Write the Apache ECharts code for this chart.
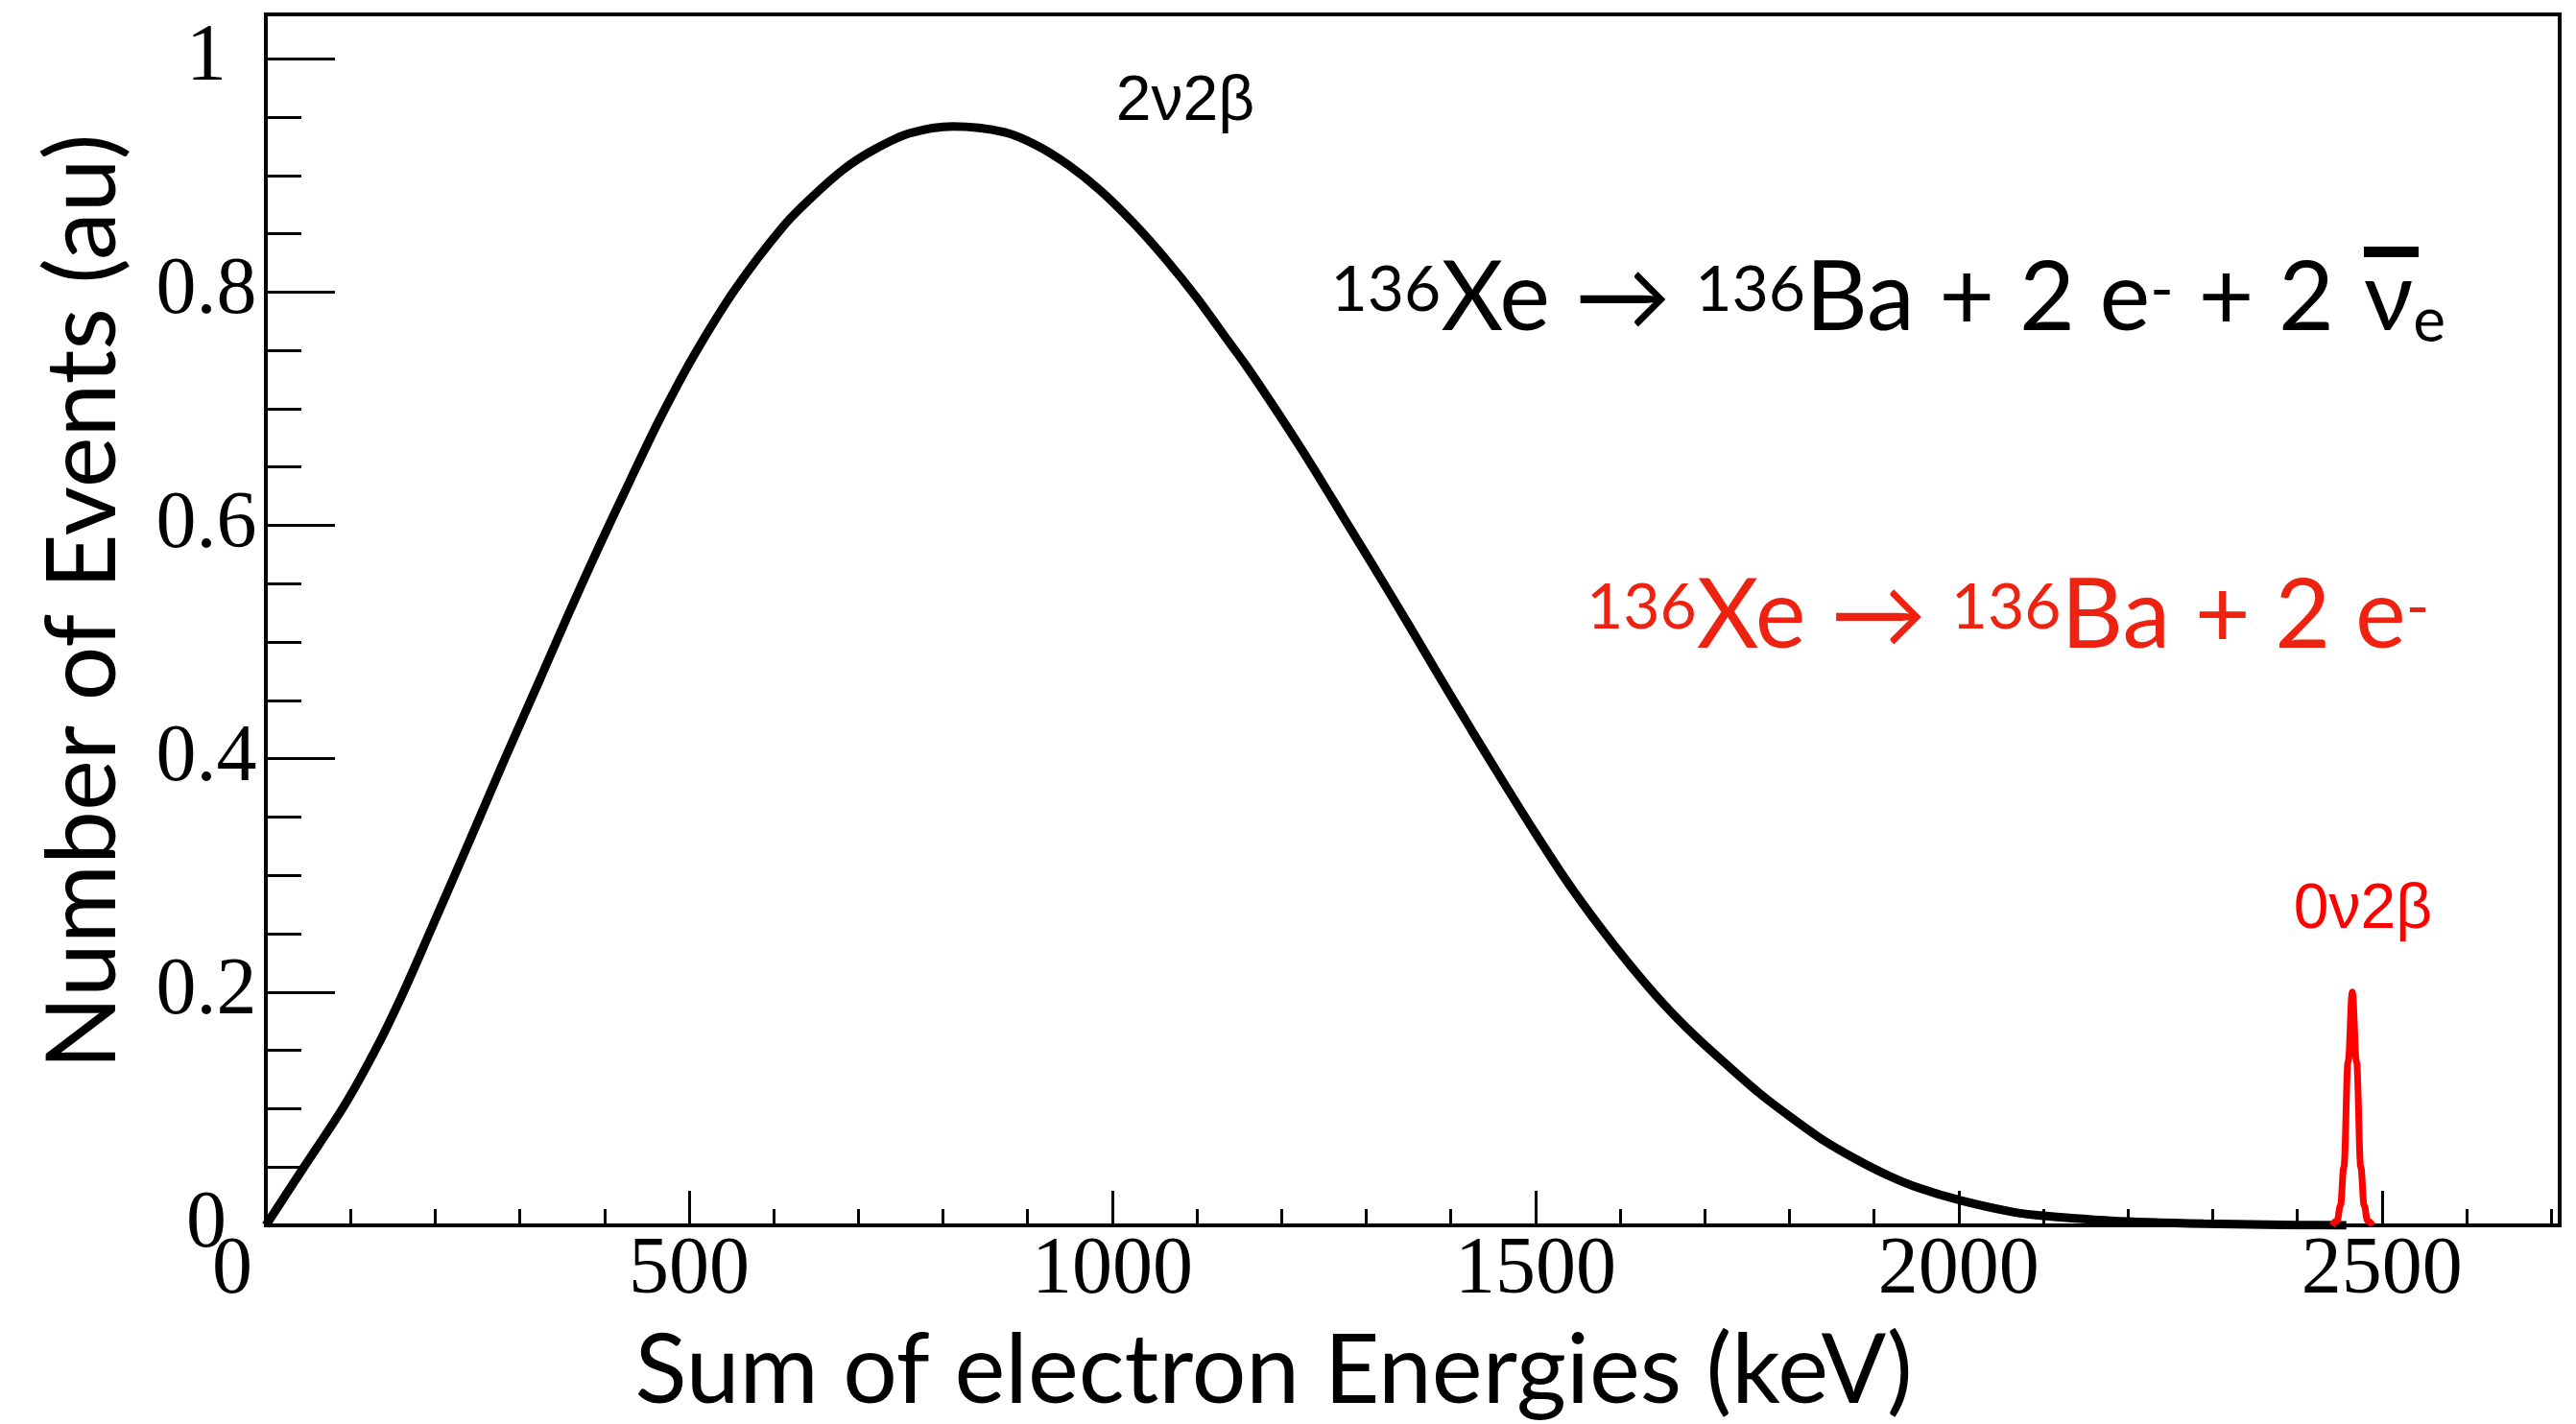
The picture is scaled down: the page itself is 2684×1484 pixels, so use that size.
<!DOCTYPE html>
<html>
<head>
<meta charset="utf-8">
<script src="https://cdn.jsdelivr.net/npm/echarts@6/dist/echarts.min.js"></script>
<style>
  html, body { margin: 0; padding: 0; background: #fff; }
  #main { width: 2684px; height: 1484px; }
</style>
</head>
<body>
<div id="main"></div>
<script>
// 2v2b spectrum (keV, arbitrary units)
var energy2v = [0, 45, 93, 132, 162, 193, 223, 251, 283, 325, 360, 395, 430, 466, 506, 555, 612, 646, 684, 721, 760, 812, 873, 910, 948, 986, 1024, 1061, 1100, 1137, 1160, 1197, 1236, 1273, 1311, 1350, 1390, 1424, 1462, 1500, 1537, 1576, 1613, 1651, 1689, 1727, 1765, 1803, 1840, 1878, 1916, 1953, 2004, 2067, 2104, 2180, 2290, 2400, 2458];
var counts2v = [0, 0.050, 0.103, 0.154, 0.199, 0.250, 0.300, 0.347, 0.401, 0.470, 0.528, 0.584, 0.638, 0.692, 0.746, 0.803, 0.857, 0.882, 0.906, 0.923, 0.936, 0.942, 0.937, 0.926, 0.909, 0.887, 0.860, 0.830, 0.795, 0.758, 0.735, 0.695, 0.651, 0.607, 0.562, 0.515, 0.466, 0.425, 0.380, 0.336, 0.295, 0.256, 0.222, 0.190, 0.162, 0.137, 0.113, 0.092, 0.073, 0.057, 0.043, 0.032, 0.021, 0.011, 0.008, 0.004, 0.0015, 0.0003, 0];

// 0v2b peak
var energy0v = [2441, 2447, 2451, 2455, 2460, 2465, 2470, 2475, 2479, 2483, 2489];
var counts0v = [0, 0.004, 0.017, 0.05, 0.14, 0.2, 0.14, 0.05, 0.017, 0.004, 0];

var xMax = 2710, xMajor = 500, xMinor = 100;
var yMax = 1.038, yMajor = 0.2, yMinor = 0.05;

function pairs(xs, ys) {
  return xs.map(function (x, i) { return [x, ys[i]]; });
}

var chartDom = document.getElementById('main');
var myChart = echarts.init(chartDom);

var tickFont = 'Liberation Serif';
var sansFont = 'Lato';

// superscript / subscript pieces of the decay equations
var supStyle = { fontFamily: sansFont, fontSize: 66, verticalAlign: 'top', padding: [18, 0, 0, 0] };
var mainStyle = { fontFamily: sansFont, fontSize: 100, lineHeight: 120 };
var subStyle = { fontFamily: sansFont, fontSize: 64, verticalAlign: 'bottom', padding: [0, 0, 5, 0] };

var option = {
  animation: false,
  backgroundColor: '#fff',
  grid: {
    left: 277, right: 17, top: 15, bottom: 207,
    show: true, borderColor: '#000', borderWidth: 4
  },
  xAxis: [
    {
      type: 'value', min: 0, max: xMax, interval: xMajor, position: 'bottom',
      axisLine: { show: true, lineStyle: { color: '#000', width: 4 } },
      axisTick: { show: true, inside: true, length: 36, lineStyle: { color: '#000', width: 3 } },
      axisLabel: {
        fontFamily: tickFont, fontSize: 84, color: '#000', margin: 6, showMaxLabel: false,
        formatter: function (v) { return v === 0 ? '{z|0}' : String(v); },
        rich: { z: { fontFamily: tickFont, fontSize: 84, color: '#000', padding: [0, 70, 0, 0] } }
      },
      splitLine: { show: false }
    },
    {
      type: 'value', min: 0, max: xMax, interval: xMinor, position: 'bottom',
      axisLine: { show: false },
      axisTick: { show: true, inside: true, length: 17, lineStyle: { color: '#000', width: 3 } },
      axisLabel: { show: false },
      splitLine: { show: false }
    }
  ],
  yAxis: [
    {
      type: 'value', min: 0, max: yMax, interval: yMajor, position: 'left',
      axisLine: { show: true, lineStyle: { color: '#000', width: 4 } },
      axisTick: { show: true, inside: true, length: 72, lineStyle: { color: '#000', width: 3 } },
      axisLabel: {
        fontFamily: tickFont, fontSize: 84, color: '#000', align: 'center', margin: 62,
        showMaxLabel: false, padding: [0, 0, 18, 0]
      },
      splitLine: { show: false }
    },
    {
      type: 'value', min: 0, max: yMax, interval: yMinor, position: 'left',
      axisLine: { show: false },
      axisTick: { show: true, inside: true, length: 37, lineStyle: { color: '#000', width: 3 } },
      axisLabel: { show: false },
      splitLine: { show: false }
    }
  ],
  series: [
    {
      name: '2v2b', type: 'line', xAxisIndex: 0, yAxisIndex: 0,
      data: pairs(energy2v, counts2v),
      showSymbol: false, smooth: 0.3,
      lineStyle: { color: '#000', width: 9 }, z: 3
    },
    {
      name: '0v2b', type: 'line', xAxisIndex: 0, yAxisIndex: 0,
      data: pairs(energy0v, counts0v),
      showSymbol: false, smooth: 0.4, smoothMonotone: 'x',
      lineStyle: { color: '#ff0000', width: 7 }, z: 4
    }
  ],
  graphic: [
    {
      type: 'text', x: 1235, y: 107,
      style: { text: '2\u03bd2\u03b2', fontFamily: 'Liberation Sans', fontSize: 66, fill: '#000', align: 'center', verticalAlign: 'middle' }
    },
    {
      type: 'text', x: 2462, y: 949,
      style: { text: '0\u03bd2\u03b2', fontFamily: 'Liberation Sans', fontSize: 66, fill: '#ff0000', align: 'center', verticalAlign: 'middle' }
    },
    {
      type: 'text', x: 2432, y: 252,
      style: {
        text: '{s|136}{m|Xe \u2192 }{s|136}{m|Ba + 2 e}{s|-}{m| + 2}',
        fill: '#000', align: 'right', verticalAlign: 'top',
        rich: { s: supStyle, m: mainStyle }
      }
    },
    {
      type: 'text', x: 2463, y: 252,
      style: {
        text: '{m|\u03bd}{b|e}',
        fill: '#000', align: 'left', verticalAlign: 'top',
        rich: { m: mainStyle, b: subStyle }
      }
    },
    {
      type: 'rect', shape: { x: 2463, y: 257, width: 57, height: 11 },
      style: { fill: '#000' }
    },
    {
      type: 'text', x: 1653, y: 583,
      style: {
        text: '{s|136}{m|Xe \u2192 }{s|136}{m|Ba + 2 e}{s|-}',
        fill: '#ee2211', align: 'left', verticalAlign: 'top',
        rich: { s: supStyle, m: mainStyle }
      }
    },
    {
      type: 'text', x: 1327, y: 1430,
      style: { text: 'Sum of electron Energies (keV)', fontFamily: sansFont, fontSize: 100, fill: '#000', align: 'center', verticalAlign: 'middle' }
    },
    {
      type: 'text', x: 88, y: 627, rotation: Math.PI / 2,
      style: { text: 'Number of Events (au)', fontFamily: sansFont, fontSize: 100, fill: '#000', align: 'center', verticalAlign: 'middle' }
    }
  ]
};

option && myChart.setOption(option);
</script>
</body>
</html>
